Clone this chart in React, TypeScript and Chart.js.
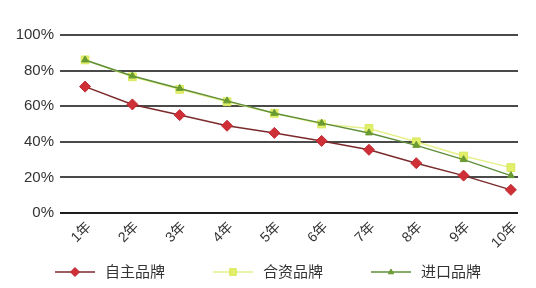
import React, { useEffect, useRef } from 'react';
import { Chart, registerables } from 'chart.js';

Chart.register(...registerables);

const years = [1, 2, 3, 4, 5, 6, 7, 8, 9, 10];
const yearSuffix = '年';
const domestic = [71, 61, 55, 49, 45, 40.5, 35.5, 28, 21, 13];
const jointVenture = [86, 76.5, 69.5, 62.5, 56, 50, 47.5, 40, 32, 25.5];
const imported = [86, 77, 70, 63, 56, 50.5, 45, 38, 30, 21];
const seriesNames = ['自主品牌', '合资品牌', '进口品牌'];
const yTickValues = [0, 20, 40, 60, 80, 100];

const FONT = '"Liberation Sans", "Noto Sans CJK SC", sans-serif';

type Style = { line: string; fill: string; stroke: string; shape: string; radius: number };
const styles: Style[] = [
  { line: '#7a2a2c', fill: '#cf2f36', stroke: '#c02830', shape: 'rectRot', radius: 5.5 },
  { line: '#e6f08c', fill: '#e2ef6a', stroke: '#d8e85c', shape: 'rect', radius: 5.5 },
  { line: '#5f8f3a', fill: '#6a9a32', stroke: '#6a9a32', shape: 'triangle', radius: 4 },
];

function drawMarker(ctx: CanvasRenderingContext2D, s: Style, x: number, y: number, r: number) {
  ctx.save();
  ctx.fillStyle = s.fill;
  ctx.strokeStyle = s.stroke;
  ctx.lineWidth = 1;
  ctx.beginPath();
  if (s.shape === 'rectRot') {
    ctx.moveTo(x, y - r);
    ctx.lineTo(x + r, y);
    ctx.lineTo(x, y + r);
    ctx.lineTo(x - r, y);
  } else if (s.shape === 'rect') {
    const h = r * 0.75;
    ctx.rect(x - h, y - h, h * 2, h * 2);
  } else {
    ctx.moveTo(x, y - r);
    ctx.lineTo(x + r * 0.9, y + r * 0.6);
    ctx.lineTo(x - r * 0.9, y + r * 0.6);
  }
  ctx.closePath();
  ctx.fill();
  ctx.stroke();
  ctx.restore();
}

const legendPlugin = {
  id: 'customLegend',
  afterDraw(chart: any) {
    const ctx: CanvasRenderingContext2D = chart.ctx;
    ctx.save();
    ctx.font = `15px ${FONT}`;
    const lineW = 40;
    const gapText = 10;
    const gapItem = 48;
    const widths = seriesNames.map((n) => lineW + gapText + ctx.measureText(n).width);
    const total = widths.reduce((a, b) => a + b, 0) + gapItem * (widths.length - 1);
    let x = (chart.width - total) / 2;
    const y = 272;
    seriesNames.forEach((name, i) => {
      const s = styles[i];
      ctx.strokeStyle = s.line;
      ctx.lineWidth = 1.5;
      ctx.beginPath();
      ctx.moveTo(x, y);
      ctx.lineTo(x + lineW, y);
      ctx.stroke();
      drawMarker(ctx, s, x + lineW / 2, y, i === 2 ? 3 : 4.5);
      ctx.fillStyle = '#333';
      ctx.textBaseline = 'middle';
      ctx.textAlign = 'left';
      ctx.fillText(name, x + lineW + gapText, y + 1);
      x += widths[i] + gapItem;
    });
    ctx.restore();
  },
};

export default function App() {
  const ref = useRef<HTMLCanvasElement>(null);
  useEffect(() => {
    document.body.style.margin = '0';
    const series = [domestic, jointVenture, imported];
    const chart = new Chart(ref.current!, {
      type: 'line',
      data: {
        datasets: series.map((vals, i) => ({
          label: seriesNames[i],
          data: vals.map((v, j) => ({ x: years[j], y: v })),
          borderColor: styles[i].line,
          borderWidth: 1.5,
          backgroundColor: styles[i].fill,
          pointBackgroundColor: styles[i].fill,
          pointBorderColor: styles[i].stroke,
          pointBorderWidth: 1,
          pointStyle: styles[i].shape as any,
          pointRadius: styles[i].radius,
          tension: 0,
          fill: false,
          order: 2 - i,
        })),
      },
      options: {
        responsive: false,
        animation: false,
        devicePixelRatio: 1,
        layout: { padding: { top: 35, right: 18, bottom: 37, left: 0 } },
        plugins: { legend: { display: false }, tooltip: { enabled: false } },
        scales: {
          x: {
            type: 'linear',
            min: 0.47,
            max: 10.15,
            grid: { display: false, drawTicks: false },
            border: { display: false },
            afterBuildTicks: (scale: any) => {
              scale.ticks = years.map((v) => ({ value: v }));
            },
            afterFit: (scale: any) => {
              scale.height = 38;
            },
            ticks: {
              autoSkip: false,
              minRotation: 45,
              maxRotation: 45,
              padding: 6,
              labelOffset: 4,
              color: '#333',
              font: { family: FONT, size: 14 },
              callback: (v: any) => `${v}${yearSuffix}`,
            },
          },
          y: {
            min: 0,
            max: 100,
            afterBuildTicks: (scale: any) => {
              scale.ticks = yTickValues.map((v) => ({ value: v }));
            },
            afterFit: (scale: any) => {
              scale.width = 60;
            },
            grid: {
              drawTicks: false,
              color: (c: any) => (c.tick && c.tick.value === 0 ? '#1e1e1e' : '#4a4a4a'),
              lineWidth: 2,
            },
            border: { display: false },
            ticks: {
              padding: 6,
              color: '#333',
              font: { family: FONT, size: 15 },
              callback: (v: any) => `${v}%`,
            },
          },
        },
      },
      plugins: [legendPlugin],
    });
    return () => chart.destroy();
  }, []);
  return (
    <div style={{ position: 'fixed', left: 0, top: 0, width: 536, height: 288, background: '#fff' }}>
      <canvas ref={ref} width={536} height={288} />
    </div>
  );
}
